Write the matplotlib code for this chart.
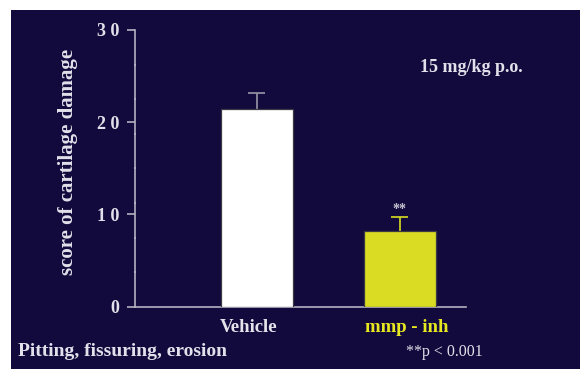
import matplotlib
matplotlib.use('Agg')
import matplotlib.pyplot as plt
import matplotlib.transforms as mtransforms
from matplotlib.patches import Rectangle
from matplotlib.ticker import MultipleLocator

# data
groups = ['Vehicle', 'mmp - inh']
scores = [21.4, 8.25]
sem = [1.8, 1.45]
bar_colors = ['#ffffff', '#d9dc22']
err_colors = ['#9896a8', '#d9dc22']
label_colors = ['#e4e2ea', '#e8e820']
yticks = [0, 10, 20, 30]
ytick_labels = ['0', '1 0', '2 0', '3 0']

bg = '#120a3c'
fg = '#e2e0ea'
W, H = 580, 369

plt.rcParams['font.family'] = ['Liberation Serif', 'DejaVu Serif']

fig = plt.figure(figsize=(W / 100, H / 100), dpi=100, facecolor='white')
# dark slide panel
fig.patches.append(Rectangle((11 / W, 0), 1, 1 - 10 / H, transform=fig.transFigure,
                             facecolor=bg, edgecolor='none', zorder=-10))

ax = fig.add_axes([135 / W, 1 - 306.7 / H, 330.7 / W, 276.7 / H])
ax.set_facecolor('none')
ax.set_zorder(1)

x = list(range(len(groups)))
ax.bar(x, scores, width=0.5, color=bar_colors, edgecolor='#3a3a44', linewidth=0.9, zorder=3)
# upper half of the error bars only, no cap inside the bar
cap = 0.06
for i in x:
    top = scores[i] + sem[i]
    ax.vlines(i, scores[i], top, color=err_colors[i], linewidth=1.2, zorder=2)
    ax.hlines(top, i - cap, i + cap, color=err_colors[i], linewidth=1.2, zorder=2)

ax.annotate('**', (1, scores[1] + sem[1]), xytext=(0, 1), textcoords='offset points',
            ha='center', va='bottom', color='#c8c6d4', fontsize=10, fontweight='bold')

ax.set_xlim(-0.852, 1.461)
ax.set_ylim(0, 30)

for side in ['top', 'right']:
    ax.spines[side].set_visible(False)
for side in ['left', 'bottom']:
    ax.spines[side].set_color('#b4b2c2')
    ax.spines[side].set_linewidth(1.2)

ax.set_yticks(yticks)
ax.set_yticklabels(ytick_labels)
ax.yaxis.set_minor_locator(MultipleLocator(3.75))
ax.tick_params(axis='y', which='major', length=6, width=1.2, color='#b4b2c2',
               labelcolor=fg, labelsize=13, pad=5)
ax.tick_params(axis='y', which='minor', length=2, width=1.2, color='#b4b2c2', direction='inout')
for t in ax.get_yticklabels():
    t.set_fontweight('bold')

ax.set_xticks(x)
ax.set_xticklabels(groups, fontsize=13.5, fontweight='bold')
ax.tick_params(axis='x', length=0, pad=9)
for t, c, dx in zip(ax.get_xticklabels(), label_colors, [-8, 7]):
    t.set_color(c)
    t.set_transform(t.get_transform() + mtransforms.ScaledTranslation(dx / 100, 0, fig.dpi_scale_trans))

fig.text(68 / W, 1 - 161.5 / H, 'score of cartilage damage', rotation=90, ha='center',
         va='center', color=fg, fontsize=15, fontweight='bold')
fig.text(471 / W, 1 - 67 / H, '15 mg/kg p.o.', ha='center', va='center', color=fg,
         fontsize=13, fontweight='bold')
fig.text(18 / W, 1 - 351 / H, 'Pitting, fissuring, erosion', ha='left', va='center',
         color=fg, fontsize=14, fontweight='bold')
fig.text(444 / W, 1 - 352 / H, '**p < 0.001', ha='center', va='center', color=fg,
         fontsize=11.5)

fig.savefig('out.png', dpi=100, facecolor=fig.get_facecolor())
